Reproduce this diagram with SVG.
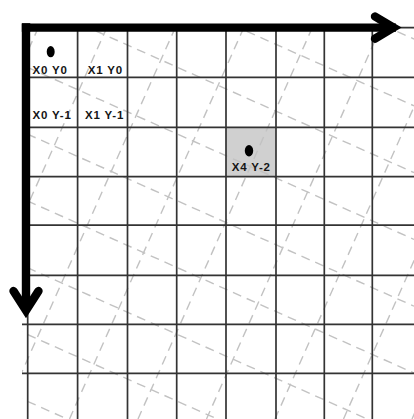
<svg xmlns="http://www.w3.org/2000/svg" width="414" height="419" viewBox="0 0 414 419">
  <style>
    .grid line { stroke: #333; stroke-width: 1.7; }
    .rot line { stroke: #c2c2c2; stroke-width: 1.4; stroke-dasharray: 9 6; }
    .lbl { font-family: "Liberation Sans", Arial, sans-serif; font-weight: bold; font-size: 11.5px; letter-spacing: 0.8px; fill: #151515; }
    .dot { fill: #000; }
    .axis { stroke: #000; stroke-width: 8.4; fill: none; }
    .head { stroke: #000; stroke-width: 8.4; fill: none; stroke-linecap: round; stroke-linejoin: miter; }
  </style>
  <defs>
    <clipPath id="area"><rect x="22" y="27" width="392" height="392"/></clipPath>
  </defs>
  <rect width="414" height="419" fill="#fff"/>

  <!-- shaded cell (X4 Y-2) background -->
  <rect id="shade-x4-y-2" x="226" y="127.5" width="50" height="49.2" fill="#d0d0d0"/>

  <!-- rotated dashed grid -->
  <g class="rot" clip-path="url(#area)">
    <line x1="0" y1="-145.3" x2="414" y2="39"/>
    <line x1="0" y1="-78.5" x2="414" y2="105.8"/>
    <line x1="0" y1="-11.7" x2="414" y2="172.6"/>
    <line x1="0" y1="55.1" x2="414" y2="239.4"/>
    <line x1="0" y1="121.9" x2="414" y2="306.2"/>
    <line x1="0" y1="188.7" x2="414" y2="373"/>
    <line x1="0" y1="255.5" x2="414" y2="439.8"/>
    <line x1="0" y1="322.3" x2="414" y2="506.6"/>
    <line x1="0" y1="389.1" x2="414" y2="573.4"/>
    <line x1="50.6" y1="0" x2="-136" y2="419"/>
    <line x1="119.1" y1="0" x2="-67.5" y2="419"/>
    <line x1="187.6" y1="0" x2="1" y2="419"/>
    <line x1="256.1" y1="0" x2="69.5" y2="419"/>
    <line x1="324.6" y1="0" x2="138" y2="419"/>
    <line x1="393.1" y1="0" x2="206.5" y2="419"/>
    <line x1="461.6" y1="0" x2="275" y2="419"/>
    <line x1="530.1" y1="0" x2="343.5" y2="419"/>
    <line x1="598.6" y1="0" x2="412" y2="419"/>
  </g>

  <!-- square grid -->
  <g class="grid">
    <line x1="27.7" y1="27.5" x2="27.7" y2="419"/>
    <line x1="77.6" y1="27.5" x2="77.6" y2="419"/>
    <line x1="127.5" y1="27.5" x2="127.5" y2="419"/>
    <line x1="176.7" y1="27.5" x2="176.7" y2="419"/>
    <line x1="226" y1="27.5" x2="226" y2="419"/>
    <line x1="276" y1="27.5" x2="276" y2="419"/>
    <line x1="324.3" y1="27.5" x2="324.3" y2="419"/>
    <line x1="372.3" y1="27.5" x2="372.3" y2="419"/>
    <line x1="22" y1="27.7" x2="414" y2="27.7"/>
    <line x1="22" y1="77.3" x2="414" y2="77.3"/>
    <line x1="22" y1="127.4" x2="414" y2="127.4"/>
    <line x1="22" y1="176.7" x2="414" y2="176.7"/>
    <line x1="22" y1="225.2" x2="414" y2="225.2"/>
    <line x1="22" y1="275.3" x2="414" y2="275.3"/>
    <line x1="22" y1="324.4" x2="414" y2="324.4"/>
    <line x1="22" y1="373.3" x2="414" y2="373.3"/>
  </g>

  <!-- nodes -->
  <g id="node-x0-y0">
    <ellipse class="dot" cx="50.7" cy="51.7" rx="4" ry="5.6"/>
    <text class="lbl" x="32.5" y="74.3">X0 Y0</text>
  </g>
  <g id="node-x1-y0">
    <text class="lbl" x="87.8" y="74.3">X1 Y0</text>
  </g>
  <g id="node-x0-y-1">
    <text class="lbl" x="32.5" y="118.8">X0 Y-1</text>
  </g>
  <g id="node-x1-y-1">
    <text class="lbl" x="85" y="118.8">X1 Y-1</text>
  </g>
  <g id="node-x4-y-2">
    <ellipse class="dot" cx="249" cy="150.7" rx="4.2" ry="5.7"/>
    <text class="lbl" x="231.7" y="170.8">X4 Y-2</text>
  </g>

  <!-- connectors: axes -->
  <g id="connectors">
    <line class="axis" x1="22" y1="27.6" x2="396" y2="27.6" stroke-linecap="butt"/>
    <polyline class="head" points="375,16.5 393.5,27.6 375,38.7"/>
    <line class="axis" x1="26" y1="23.4" x2="26" y2="310" stroke-linecap="butt"/>
    <polyline class="head" points="13.5,291 26,310.5 38.5,291"/>
    <rect x="21.8" y="23.4" width="8.4" height="8.4" fill="#000"/>
  </g>
</svg>
